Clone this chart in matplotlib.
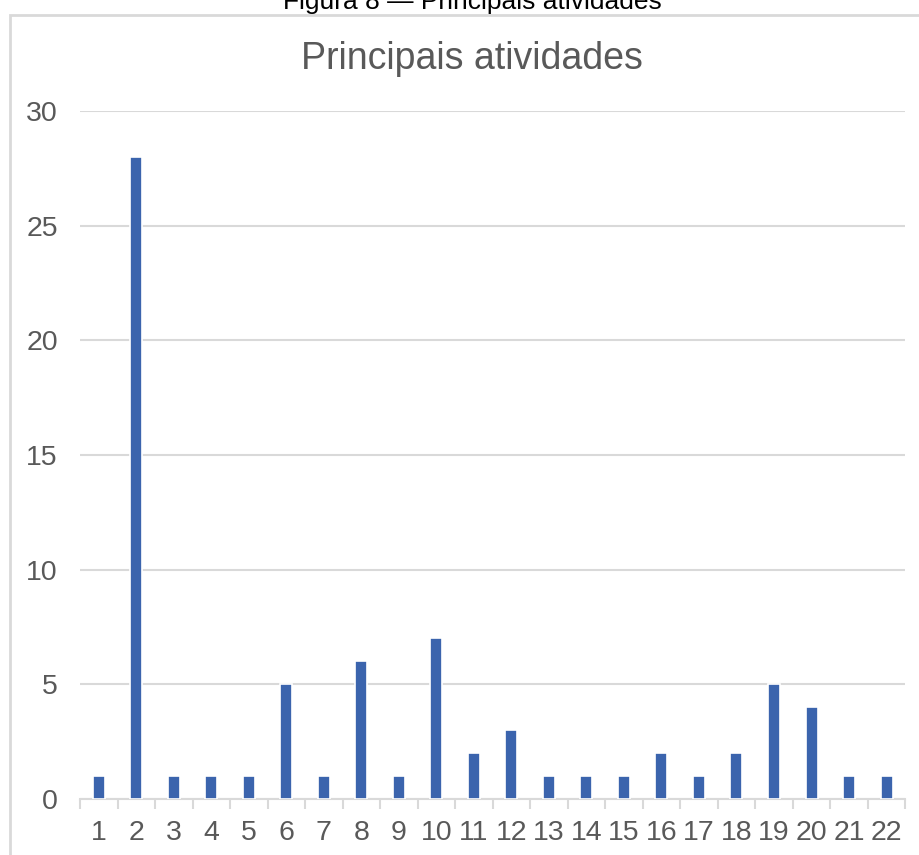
import numpy as np
import matplotlib.pyplot as plt
from matplotlib.patches import Rectangle

plt.rcParams['font.family'] = ['Liberation Sans', 'DejaVu Sans']

categorias = [str(i) for i in range(1, 23)]
valores = [1, 28, 1, 1, 1, 5, 1, 6, 1, 7, 2, 3, 1, 1, 1, 2, 1, 2, 5, 4, 1, 1]
yticks = [0, 5, 10, 15, 20, 25, 30]

cinza = '#595959'
grade = '#d9d9d9'
azul = '#3b64ad'

fig = plt.figure(figsize=(9.2, 8.55), dpi=100)
ax = fig.add_axes([0.087, 0.0655, 0.897, 0.8047])

x = np.arange(len(valores))
ax.bar(x, valores, width=0.32, color=azul, edgecolor='white', linewidth=1.2, zorder=3)

ax.set_xlim(-0.5, len(valores) - 0.5)
ax.set_ylim(0, 30)
ax.set_yticks(yticks)
ax.set_yticklabels([str(v) for v in yticks], fontsize=20.5, color=cinza)
ax.yaxis.grid(True, color=grade, linewidth=1.5, zorder=0)
ax.tick_params(axis='y', length=0, pad=16)

# categorias no eixo x, marcas entre as barras
ax.set_xticks(x)
ax.set_xticklabels(categorias, fontsize=20.5, color=cinza)
ax.tick_params(axis='x', which='major', length=0, pad=15)
ax.set_xticks(np.arange(-0.5, len(valores)), minor=True)
ax.tick_params(axis='x', which='minor', length=7, width=1.5, color=grade)

for s in ['top', 'right', 'left']:
    ax.spines[s].set_visible(False)
ax.spines['bottom'].set_color(grade)
ax.spines['bottom'].set_linewidth(1.5)

ax.set_title('Principais atividades', fontsize=27, color=cinza, pad=30, x=0.475)

# moldura do gráfico (cortada à direita e embaixo)
fig.patches.append(Rectangle((10 / 920, -0.05), 1.1, 1 - 15 / 855 + 0.05,
                             transform=fig.transFigure, fill=False,
                             edgecolor=grade, linewidth=2))
fig.text(0.513, 1 - 9 / 855, 'Figura 8 — Principais atividades',
         ha='center', va='baseline', fontsize=19, color='black')

fig.savefig('out.png', dpi=100)
